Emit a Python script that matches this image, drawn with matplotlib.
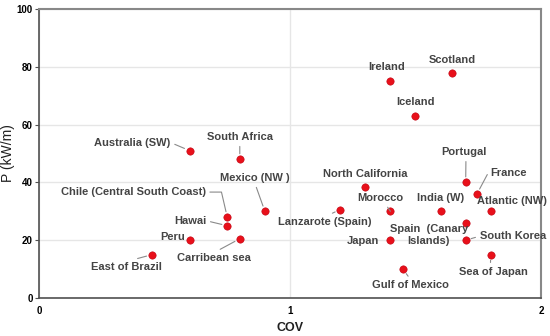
import matplotlib
matplotlib.use("Agg")
import matplotlib.pyplot as plt

# data
sites = ["Australia (SW)", "South Africa", "Ireland", "Scotland", "Iceland",
         "Portugal", "France", "Chile (Central South Coast)", "Hawai",
         "Mexico (NW )", "Peru", "Carribean sea", "East of Brazil",
         "North California", "Lanzarote (Spain)", "Morocco", "India (W)",
         "Atlantic (NW)", "Spain  (Canary\nIslands)", "South Korea", "Japan",
         "Sea of Japan", "Gulf of Mexico"]
cov = [0.60, 0.80, 1.40, 1.645, 1.50,
       1.70, 1.745, 0.75, 0.75,
       0.90, 0.60, 0.80, 0.45,
       1.30, 1.20, 1.40, 1.60,
       1.80, 1.70, 1.70, 1.40,
       1.80, 1.45]
power = [51, 48, 75, 78, 63,
         40, 36, 28, 25,
         30, 20, 20.5, 15,
         38.3, 30.6, 30, 30,
         30, 26, 20, 20,
         15, 10]

# label offsets in pixels (dx, dy) and leader line start on the text box (None = no line)
label_pos = {
    "Australia (SW)": (-57, 8, (1, 0.5)),
    "South Africa": (0, 22, (0.5, 0)),
    "Ireland": (-4, 14, None),
    "Scotland": (0, 13, None),
    "Iceland": (0, 14, None),
    "Portugal": (-2, 30, (0.55, 0)),
    "France": (32, 21, (0, 0.5)),
    "Chile (Central South Coast)": (-94, 25, (1, 0.5)),
    "Hawai": (-37, 5, (1, 0.5)),
    "Mexico (NW )": (-10, 33, (0.5, 0)),
    "Peru": (-17, 3, None),
    "Carribean sea": (-26, -19, (0.5, 1)),
    "East of Brazil": (-26, -12, (0.5, 1)),
    "North California": (0, 13, None),
    "Lanzarote (Spain)": (-15, -12, (0.5, 1)),
    "Morocco": (-10, 13, (0.6, 0)),
    "India (W)": (0, 13, None),
    "Atlantic (NW)": (21, 10, None),
    "Spain  (Canary\nIslands)": (-37, -12, None),
    "South Korea": (47, 4, (0, 0.5)),
    "Japan": (-27, -1, None),
    "Sea of Japan": (3, -17, (0.45, 1)),
    "Gulf of Mexico": (8, -16, (0.5, 1)),
}
# bent leader lines
bends = {
    "Chile (Central South Coast)": "angle,angleA=0,angleB=103,rad=0",
    "France": "angle,angleA=0,angleB=62,rad=0",
}

plt.rcParams['font.family'] = ['Liberation Sans', 'DejaVu Sans']

fig = plt.figure(figsize=(5.5, 3.36), dpi=100)
ax = fig.add_axes([0.0709, 0.1131, 0.9127, 0.8601])

ax.set_xlim(0, 2)
ax.set_ylim(0, 100)
ax.set_xticks([0, 1, 2])
ax.set_yticks([0, 20, 40, 60, 80, 100])
ax.grid(True, color='#e6e6e6', linewidth=1.0)
ax.set_axisbelow(True)

for s in ['left', 'bottom']:
    ax.spines[s].set_color('#505050')
    ax.spines[s].set_linewidth(1.2)
for s in ['top', 'right']:
    ax.spines[s].set_color('#888888')
    ax.spines[s].set_linewidth(1.5)

ax.tick_params(axis='both', labelsize=7, color='#505050', length=3, width=0.8)
ax.tick_params(axis='y', pad=1.5)
for lbl in ax.get_xticklabels() + ax.get_yticklabels():
    lbl.set_fontweight('bold')
ax.tick_params(axis='x', length=0, pad=6)

ax.scatter(cov, power, s=28, color='#e8101a', edgecolors='#c00010',
           linewidths=0.4, zorder=3)

for name, x, y in zip(sites, cov, power):
    dx, dy, rel = label_pos[name]
    arrow = None
    if rel is not None:
        arrow = dict(arrowstyle='-', color='#8a8a8a', lw=0.8,
                     shrinkA=1, shrinkB=4, relpos=rel,
                     connectionstyle=bends.get(name, "arc3"))
    ax.annotate(name, (x, y), xytext=(dx, dy), textcoords='offset pixels',
                ha='center', va='center', fontsize=8, fontweight='bold',
                color='#444444', arrowprops=arrow, linespacing=1.3)

ax.set_xlabel('COV', fontsize=9, fontweight='bold', color='#202020', labelpad=4)
ax.set_ylabel('P (kW/m)', fontsize=10, color='#202020', labelpad=1)

fig.savefig('out.png', dpi=100)
